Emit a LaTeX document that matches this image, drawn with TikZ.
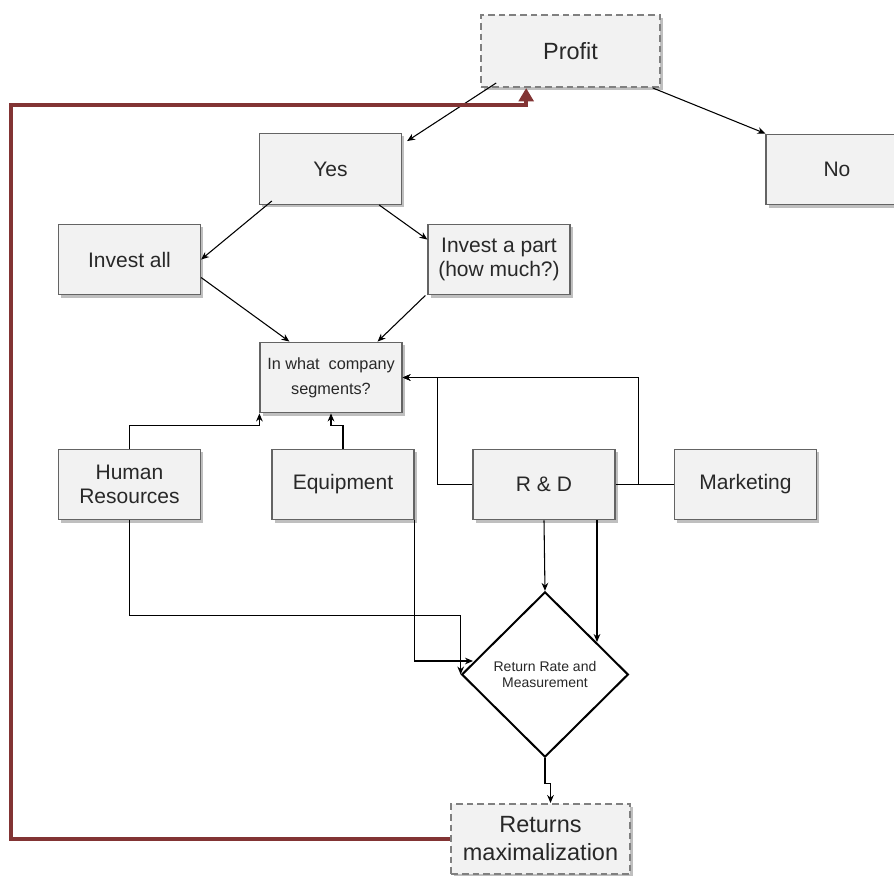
\documentclass[tikz,border=0pt]{standalone}
\usepackage{fontspec}
\setmainfont{Liberation Sans}
\usetikzlibrary{shapes.geometric,arrows.meta,calc,shadows}

\definecolor{boxfill}{RGB}{242,242,242}
\definecolor{boxline}{RGB}{100,100,100}
\definecolor{dashline}{RGB}{128,128,128}
\definecolor{loopred}{RGB}{130,52,52}
\definecolor{textgray}{RGB}{40,40,40}

\tikzset{
  box/.style={draw=boxline, fill=boxfill, line width=0.9pt, minimum width=106.5pt,
    minimum height=53pt, inner sep=0pt, align=center, text=textgray,
    font=\fontsize{15.75}{18}\selectfont,
    drop shadow={shadow xshift=2pt, shadow yshift=-2pt, fill=black!25, opacity=1}},
  dashbox/.style={box, draw=dashline, line width=1.5pt, dash pattern=on 5pt off 3pt,
    minimum width=134pt, minimum height=54pt, font=\fontsize{17.6}{21}\selectfont},
  dia/.style={diamond, draw=black, line width=1.5pt, fill=white, minimum width=125pt,
    minimum height=124pt, inner sep=0pt, align=center, text=textgray,
    font=\fontsize{10.5}{12.5}\selectfont},
  arr/.style={-{Stealth[length=6pt,width=5pt]}, line width=0.8pt},
  plain/.style={line width=0.8pt},
  back/.style={-{Triangle[length=10pt,width=11pt]}, loopred, line width=2.6pt},
}

\begin{document}
\begin{tikzpicture}[x=0.75pt, y=-0.75pt]
    \useasboundingbox (0,0) rectangle (894,876);

    % Decision boxes
    \node[dashbox] (profit) at (570.5,51) {Profit};
    \node[box] (yes) at (330.5,169) {Yes};
    \node[box] (no) at (837,169.5) {No};
    \node[box] (invall) at (129.5,259.5) {Invest all};
    \node[box] (invpart) at (499,259.5) {Invest a part\\(how much?)};
    \node[box, font=\fontsize{12.2}{18.5}\selectfont] (segm) at (331,377.5) {In what~ company\\segments?};

    % Segments
    \node[box] (hr) at (129.5,484.5) {Human\\Resources};
    \node[box] (equip) at (343,484.5) {Equipment};
    \node[box] (rd) at (544,484.5) {R \& D};
    \node[box] (mkt) at (745.5,484.5) {Marketing};

    % Measurement and result
    \node[dia] (dia) at (545,674.5) {Return Rate and\\Measurement};
    \node[dashbox, minimum height=52.5pt] (ret) at (540.5,839) {Returns\\maximalization};

    \coordinate (rdtip) at (597,642);
    \coordinate (eqtip) at (473,661);
    \coordinate (loopleft) at (11,105);

    % Arrows, top part
    \draw[arr] ($(profit.south west)+(16,-5)$) -- ($(yes.north east)+(5,8)$);
    \draw[arr] ($(profit.south east)+(-8,0)$) -- (no.north west);
    \draw[arr] ($(yes.south west)+(13,-4)$) -- (invall.east);
    \draw[arr] ($(yes.south east)+(-23,0)$) -- ($(invpart.north west)+(0,16)$);
    \draw[arr] ($(invall.east)+(0,18)$) -- ($(segm.north west)+(30,0)$);
    \draw[arr] ($(invpart.south west)+(-2,0)$) -- ($(segm.north east)+(-25,0)$);

    % Segments back to the question
    \draw[arr] (hr.north) -- ++(0,-23) -| (segm.south west);
    \draw[arr] (equip.north) -- ++(0,-23) -| (segm.south);
    \draw[arr] (rd.west) -- ++(-35,0) |- (segm.east);
    \draw[plain] (rd.east) -- (mkt.west);
    \draw[arr] (mkt.west) -- ++(-35,0) |- (segm.east);

    % Segments to the measurement
    \draw[arr] (rd.south) -- (dia.north);
    \draw[arr] (rd.south -| rdtip) -- (rdtip);
    \draw[arr] (hr.south) -- ++(0,95) -| (dia.west);
    \draw[arr] (equip.south east) |- (eqtip);
    \draw[arr] (dia.south) -- ++(0,25) -| ($(ret.north)+(10,0)$);

    % Loop back to profit
    \draw[back] (ret.west) -| (loopleft) -| ($(profit.south west)+(46,0)$);
\end{tikzpicture}
\end{document}
